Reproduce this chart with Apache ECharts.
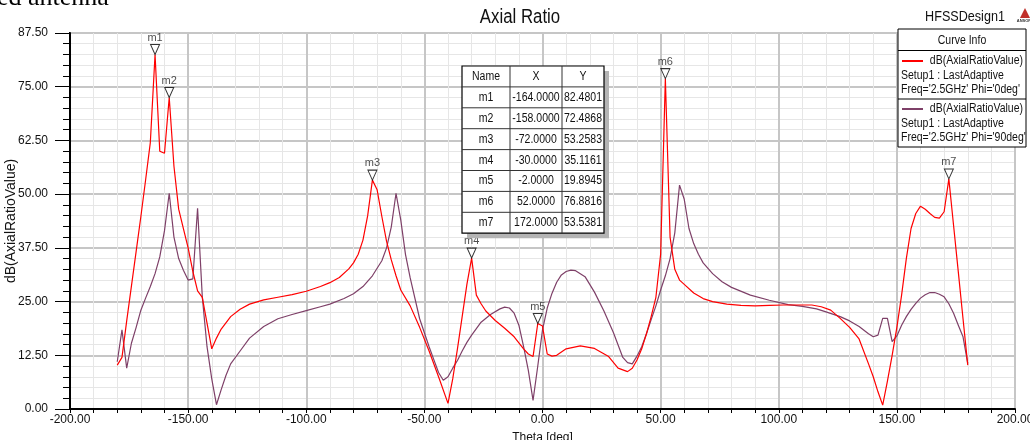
<!DOCTYPE html>
<html><head><meta charset="utf-8">
<script src="https://cdn.jsdelivr.net/npm/echarts/dist/echarts.min.js"></script>
<style>html,body{margin:0;padding:0;background:#fff}#c{width:1030px;height:440px}</style>
</head><body><div id="c"></div>
<script>
// ---- data ----
const thetaPhi0 = [-180,-178,-176,-174,-172,-170,-168,-166,-164,-162,-160,-158,-156,-154,-152,-150,-148,-146,-144,-142,-140,-138,-136,-132,-128,-124,-118,-112,-106,-100,-94,-90,-86,-82,-80,-78,-76,-74,-72,-70,-68,-66,-64,-62,-60,-56,-52,-48,-44,-40,-38,-36,-34,-32,-30,-28,-26,-24,-20,-16,-12,-8,-6,-4,-2,0,2,4,6,10,16,22,28,32,36,38,40,42,44,46,48,50,52,54,56,58,60,64,68,72,78,84,90,96,102,108,114,118,122,126,130,134,138,140,142,144,146,148,150,152,154,156,158,160,162,164,166,168,170,172,174,176,178,180];
const arPhi0 = [10.2,12,20.5,28.6,36.7,44.8,53.3,62,82.48,60,59.5,72.49,56.5,46.5,42,37.5,32,27.5,26,20,14,16.5,18.6,21.5,23.2,24.4,25.4,26,26.6,27.4,28.5,29.4,30.6,32.6,34,36,39.3,45,53.26,51,44.8,39,34.7,31,27.7,24,19,13.5,7.5,1.3,7,14,21.5,29,35.12,26.5,24.5,22.8,20.6,18.8,16.8,14,12.8,12.2,19.89,19.3,12.8,12.3,12.5,14,14.7,14.1,12.2,9.5,8.7,9.5,11.4,14,17.5,21.5,26,36,76.88,40,32.5,30,29,27,25.7,25,24.4,24.1,24,24.1,24.2,24.2,24.2,23.8,23,21.1,19,16.3,10.5,7.5,4,0.9,6.5,12.5,19,26.5,35,42,45.5,47.2,46.5,45.5,44.6,44.4,45.9,53.54,42.7,31.9,21,10.2];
const thetaPhi90 = [-180,-178,-176,-174,-172,-170,-168,-166,-164,-162,-160,-158,-156,-154,-152,-150,-148,-146,-144,-142,-140,-138,-136,-134,-132,-128,-124,-118,-112,-106,-100,-94,-90,-84,-80,-76,-72,-68,-66,-64,-62,-60,-58,-56,-52,-48,-46,-44,-42,-40,-38,-36,-34,-32,-30,-26,-22,-18,-16,-14,-12,-10,-8,-6,-4,-2,0,2,4,6,8,10,12,14,18,22,26,30,34,36,38,40,42,44,46,48,50,52,54,56,58,60,62,64,66,68,72,76,80,88,96,104,110,116,120,126,130,134,138,140,142,144,146,148,150,152,154,156,158,160,162,164,166,168,170,172,174,176,178,180];
const arPhi90 = [11,18.4,9.5,15.3,19,23,25.8,28.5,31.5,35.4,41.5,50.2,40,35,32.3,30,30.3,46.7,26.1,14.5,7,1,4.5,7.8,10.5,13.5,16.5,19.2,21,22,22.9,23.8,24.4,25.7,26.8,28.5,31,34.5,37.5,42.4,50.2,44,36,30.5,21,14.5,11.5,8.5,6.7,7.5,9.5,11.3,13.5,15.5,17.2,20.2,22,23.3,23.7,23.5,22.3,19.5,14.5,9,2,10,18.4,23.5,26.9,29.5,31.2,32,32.3,32.2,30.8,27.2,22.8,17.8,12,10.8,10.5,12.3,14.5,17.5,20.8,24,27.7,31,35,41,52.1,48.8,42,38.5,36,34,31.5,29.6,28.3,26.5,25.3,24.3,23.9,23.3,22.6,21.5,20.5,19.2,17.5,16.8,17.2,21.1,21.1,15.7,17,19.5,21.5,23.2,24.6,25.8,26.6,27.1,27.1,26.7,26.1,24.5,22.3,19.5,16.8,10.6];
const markerNames = ['m1','m2','m3','m4','m5','m6','m7'];
const markerTheta = [-164,-158,-72,-30,-2,52,172];
const markerValue = [82.4801,72.4868,53.2583,35.1161,19.8945,76.8816,53.5381];
const xMin = -200, xMax = 200, xStep = 50;
const yMin = 0, yMax = 87.5, yStep = 12.5;
const seriesNames = ['dB(AxialRatioValue) Phi=0deg','dB(AxialRatioValue) Phi=90deg'];
const legendLines = [
  ['dB(AxialRatioValue)','Setup1 : LastAdaptive',"Freq='2.5GHz' Phi='0deg'"],
  ['dB(AxialRatioValue)','Setup1 : LastAdaptive',"Freq='2.5GHz' Phi='90deg'"]
];
const colors = ['#ff0000','#7e4068'];

// ---- build ----
const FONT = "'Liberation Sans',Arial,sans-serif";
const SX = 0.84; // the reference text is horizontally condensed
const pair = (xs, ys) => xs.map((x, i) => [x, ys[i]]);
const chart = echarts.init(document.getElementById('c'), null, {renderer: 'canvas'});

const graphics = [];
const txt = (text, x, y, size, align, z, extra) => graphics.push(Object.assign({
  type: 'text', x: x, y: y, z: z || 61, scaleX: SX,
  style: {text: text, font: size + 'px ' + FONT, fill: '#111', textAlign: align || 'center', textVerticalAlign: 'middle'}
}, extra || {}));

// cut-off text of the surrounding document
graphics.push({type:'text', left: -3, top: -15, z: 50, style:{text:'ed antenna', font:"26px 'Liberation Serif','Times New Roman',serif", fill:'#000'}});
// title and design name
txt('Axial Ratio', 520, 17, 20, 'center', 50);
txt('HFSSDesign1', 965, 17, 15, 'center', 50);
graphics.push({type:'polygon', z: 50, shape:{points:[[1025,8],[1020,18],[1030,18]]}, style:{fill:'#c0302a'}});
graphics.push({type:'text', x: 1025, y: 21, z: 50, style:{text:'ANSOFT', font:'bold 4px sans-serif', fill:'#333', textAlign:'center', textVerticalAlign:'middle'}});

// legend box
const lx = 898, ly = 29, lw = 128, lh = 118;
graphics.push({type:'rect', z: 60, shape:{x:lx, y:ly, width:lw, height:lh}, style:{fill:'#fff', stroke:'#000', lineWidth:1}});
txt('Curve Info', lx + lw/2, 40.5, 12.5, 'center');
graphics.push({type:'line', z: 61, shape:{x1:lx, y1:50.5, x2:lx+lw, y2:50.5}, style:{stroke:'#000', lineWidth:1}});
legendLines.forEach((ls, k) => {
  const y0 = 61 + k*48;
  graphics.push({type:'line', z: 61, shape:{x1:902, y1:y0, x2:923, y2:y0}, style:{stroke:colors[k], lineWidth:2}});
  txt(ls[0], 1023, y0, 12.5, 'right');
  txt(ls[1], 901, y0 + 15, 12.5, 'left');
  txt(ls[2], 901, y0 + 29, 12.5, 'left');
  if (k === 0) graphics.push({type:'line', z: 61, shape:{x1:lx, y1:99, x2:lx+lw, y2:99}, style:{stroke:'#000', lineWidth:1}});
});

// marker table
const tx = 462, ty = 66, cols = [462, 510, 562, 604], rh = 20.9;
const nRows = markerNames.length + 1;
graphics.push({type:'rect', z: 58, shape:{x:tx+5, y:ty+5, width:cols[3]-tx, height:rh*nRows}, style:{fill:'#b4b4b4'}});
graphics.push({type:'rect', z: 59, shape:{x:tx, y:ty, width:cols[3]-tx, height:rh*nRows}, style:{fill:'#fff', stroke:'#000', lineWidth:1.2}});
for (let r = 1; r < nRows; r++) graphics.push({type:'line', z: 60, shape:{x1:tx, y1:ty+r*rh, x2:cols[3], y2:ty+r*rh}, style:{stroke:'#333', lineWidth:1}});
[cols[1], cols[2]].forEach(cx => graphics.push({type:'line', z: 60, shape:{x1:cx, y1:ty, x2:cx, y2:ty+rh*nRows}, style:{stroke:'#333', lineWidth:1}}));
const cell = (t, c, r) => txt(t, (cols[c]+cols[c+1])/2, ty + r*rh + rh/2, 12.5, 'center');
cell('Name',0,0); cell('X',1,0); cell('Y',2,0);
markerNames.forEach((n, i) => { cell(n,0,i+1); cell(markerTheta[i].toFixed(4),1,i+1); cell(markerValue[i].toFixed(4),2,i+1); });

const option = {
  animation: false,
  backgroundColor: '#fff',
  grid: {left: 70, right: 15, top: 33, bottom: 31, show: true, borderColor: '#000', borderWidth: 2,
         backgroundColor: 'transparent', containLabel: false, outerBoundsMode: 'none'},
  xAxis: {
    type: 'value', min: xMin, max: xMax, interval: xStep,
    name: 'Theta [deg]', nameLocation: 'middle', nameGap: 23, nameMoveOverlap: false,
    nameTextStyle: {fontFamily: FONT, fontSize: 12, color: '#111'},
    axisLine: {show: true, onZero: false, lineStyle: {color: '#000', width: 2}},
    axisTick: {show: true, length: 4, lineStyle: {color: '#000'}},
    minorTick: {show: true, splitNumber: 5, length: 4, lineStyle: {color: '#000'}},
    axisLabel: {fontFamily: FONT, fontSize: 12, color: '#111', margin: 5, formatter: v => v.toFixed(2), showMaxLabel: true, showMinLabel: true, hideOverlap: false},
    splitLine: {show: true, lineStyle: {color: '#c6c6c6', width: 2}},
    minorSplitLine: {show: true, lineStyle: {color: '#e6e6e6', width: 1}}
  },
  yAxis: {
    type: 'value', min: yMin, max: yMax, interval: yStep,
    name: 'dB(AxialRatioValue)', nameLocation: 'middle', nameGap: 52, nameRotate: 90, nameMoveOverlap: false,
    nameTextStyle: {fontFamily: FONT, fontSize: 14, color: '#111'},
    axisLine: {show: true, onZero: false, lineStyle: {color: '#000', width: 2}},
    axisTick: {show: true, length: 15, lineStyle: {color: '#000'}},
    minorTick: {show: true, splitNumber: 5, length: 7, lineStyle: {color: '#000'}},
    axisLabel: {fontFamily: FONT, fontSize: 12, color: '#111', margin: 22, formatter: v => v.toFixed(2)},
    splitLine: {show: true, lineStyle: {color: '#c6c6c6', width: 2}},
    minorSplitLine: {show: true, lineStyle: {color: '#e6e6e6', width: 1}}
  },
  series: [
    {name: seriesNames[0], type: 'line', data: pair(thetaPhi0, arPhi0), showSymbol: false, symbol: 'none', lineStyle: {color: colors[0], width: 1.2}, itemStyle: {color: colors[0]}, z: 3},
    {name: seriesNames[1], type: 'line', data: pair(thetaPhi90, arPhi90), showSymbol: false, symbol: 'none', lineStyle: {color: colors[1], width: 1.2}, itemStyle: {color: colors[1]}, z: 2},
    {name: 'markers', type: 'scatter', z: 5,
     data: markerTheta.map((t, i) => ({value: [t, markerValue[i]], name: markerNames[i]})),
     symbol: 'path://M0,0L10,0L5,11Z', symbolSize: [9, 10], symbolOffset: [0, '-50%'],
     itemStyle: {color: '#fff', borderColor: '#000', borderWidth: 1},
     label: {show: true, position: 'top', distance: 1, formatter: p => p.name, fontFamily: FONT, fontSize: 11, color: '#222'}}
  ],
  graphic: graphics
};
chart.setOption(option);
</script>
</body></html>
